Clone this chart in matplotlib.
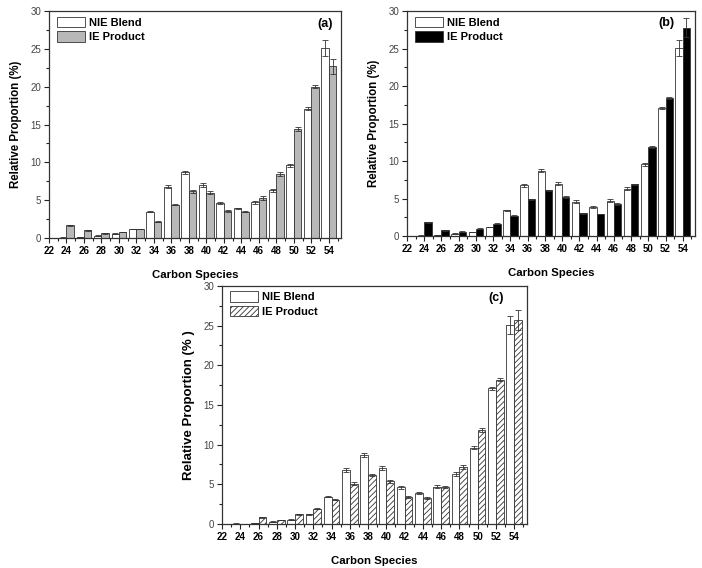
import numpy as np
import matplotlib.pyplot as plt
from matplotlib.ticker import MultipleLocator

plt.rcParams['font.family'] = ['Liberation Sans', 'DejaVu Sans']
plt.rcParams['hatch.color'] = '#555555'
plt.rcParams['hatch.linewidth'] = 0.6

# carbon species and values
carbon = np.arange(24, 56, 2)

nie = [0.05, 0.1, 0.3, 0.55, 1.2, 3.45, 6.8, 8.7, 7.0, 4.6, 3.9, 4.7, 6.3, 9.6, 17.1, 25.1]
nie_err = [0.02, 0.03, 0.05, 0.05, 0.05, 0.08, 0.2, 0.2, 0.25, 0.15, 0.1, 0.2, 0.2, 0.2, 0.15, 1.1]

ie_a = [1.7, 1.0, 0.6, 0.8, 1.2, 2.15, 4.4, 6.15, 5.95, 3.55, 3.5, 5.3, 8.5, 14.4, 20.0, 22.7]
ie_a_err = [0.05, 0.05, 0.05, 0.05, 0.05, 0.05, 0.1, 0.15, 0.2, 0.1, 0.1, 0.25, 0.25, 0.25, 0.2, 1.0]

ie_b = [1.85, 0.75, 0.6, 1.0, 1.65, 2.7, 4.9, 6.1, 5.2, 3.05, 2.95, 4.3, 6.9, 11.85, 18.4, 27.8]
ie_b_err = [0.05, 0.05, 0.05, 0.05, 0.05, 0.05, 0.1, 0.1, 0.1, 0.05, 0.05, 0.1, 0.1, 0.1, 0.15, 1.3]

ie_c = [0.0, 0.85, 0.5, 1.2, 1.95, 3.05, 5.1, 6.2, 5.4, 3.4, 3.25, 4.7, 7.2, 11.9, 18.2, 25.7]
ie_c_err = [0.0, 0.05, 0.05, 0.05, 0.05, 0.08, 0.15, 0.15, 0.2, 0.1, 0.1, 0.15, 0.25, 0.25, 0.2, 1.25]

fig = plt.figure(figsize=(7.02, 5.68), dpi=100)

panels = [
    ([0.0698, 0.581, 0.416, 0.3996], ie_a, ie_a_err, dict(color='#b8b8b8'), '(a)', (0.945, 0.943), 8.3),
    ([0.5798, 0.5845, 0.410, 0.396], ie_b, ie_b_err, dict(color='black'), '(b)', (0.90, 0.947), 8.3),
    ([0.3162, 0.0775, 0.4345, 0.419], ie_c, ie_c_err, dict(color='white', hatch='//////'), '(c)', (0.90, 0.95), 9.5),
]

w = 0.85
for rect, ie, ie_err, style, tag, tagpos, ylfs in panels:
    ax = fig.add_axes(rect)
    ax.bar(carbon, nie, width=-w, align='edge', color='white', edgecolor='#333333', linewidth=0.6,
           yerr=nie_err, error_kw=dict(ecolor='#333333', elinewidth=0.6, capsize=2.2, capthick=0.6),
           label='NIE Blend')
    ax.bar(carbon, ie, width=w, align='edge', edgecolor='#333333', linewidth=0.6,
           yerr=ie_err, error_kw=dict(ecolor='#333333', elinewidth=0.6, capsize=2.2, capthick=0.6),
           label='IE Product', **style)
    ax.set_xlim(22, 55.4)
    ax.set_ylim(0, 30)
    ax.xaxis.set_major_locator(MultipleLocator(2))
    ax.xaxis.set_minor_locator(MultipleLocator(1))
    ax.yaxis.set_major_locator(MultipleLocator(5))
    ax.yaxis.set_minor_locator(MultipleLocator(2.5))
    ax.tick_params(which='both', direction='out', width=0.8, color='#222222')
    ax.tick_params(which='major', length=3.5)
    ax.tick_params(which='minor', length=2)
    ax.tick_params(axis='x', labelsize=7, pad=2)
    ax.tick_params(axis='y', labelsize=7, labelcolor='#444444', pad=2)
    for lab in ax.get_xticklabels():
        lab.set_fontweight('bold')
    for s in ax.spines.values():
        s.set_linewidth(0.9)
        s.set_color('#333333')
    ax.set_xlabel('Carbon Species', fontsize=8.2, fontweight='bold', labelpad=10)
    ax.set_ylabel('Relative Proportion (%)' if tag != '(c)' else 'Relative Proportion (% )',
                  fontsize=ylfs, fontweight='bold', labelpad=6)
    ax.text(tagpos[0], tagpos[1], tag, transform=ax.transAxes, ha='center', va='center',
            fontsize=9, fontweight='bold')
    ax.legend(loc='upper left', bbox_to_anchor=(0.0, 1.01), frameon=False,
              prop=dict(weight='bold', size=8), handlelength=2.5, handleheight=1.1,
              handletextpad=0.4, labelspacing=0.3, borderaxespad=0.3)

fig.savefig('out.png', dpi=100)
